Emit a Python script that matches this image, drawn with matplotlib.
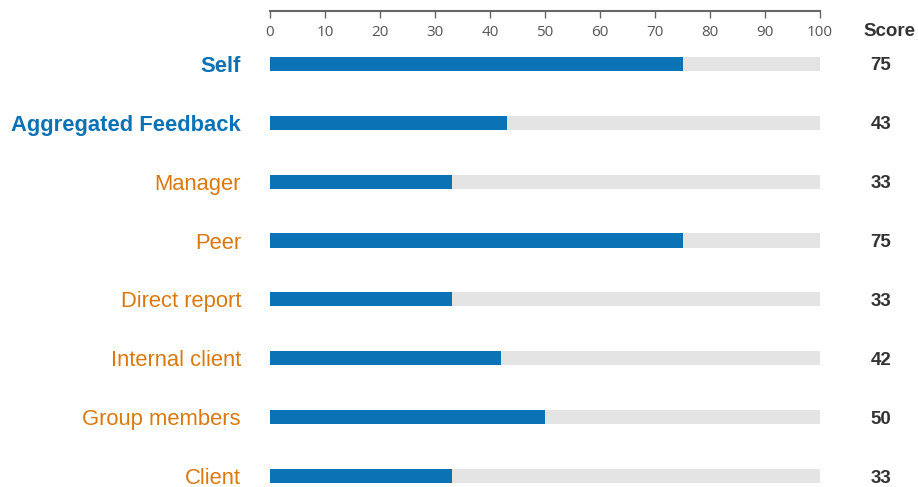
import matplotlib
matplotlib.use("Agg")
import matplotlib.pyplot as plt
from matplotlib.transforms import blended_transform_factory

categories = ["Self", "Aggregated Feedback", "Manager", "Peer", "Direct report",
              "Internal client", "Group members", "Client"]
scores = [75, 43, 33, 75, 33, 42, 50, 33]
highlight = [True, True, False, False, False, False, False, False]
ticks = [0, 10, 20, 30, 40, 50, 60, 70, 80, 90, 100]
max_score = 100

BLUE = "#0b72b5"
ORANGE = "#d9790f"
TRACK = "#e4e4e4"

fig = plt.figure(figsize=(9.18, 4.87), dpi=100)
ax = fig.add_axes([270/918, 0, 550/918, 1 - 11/487])

y = list(range(len(categories)))
bh = 0.24
ax.barh(y, [max_score]*len(y), height=bh, color=TRACK, zorder=1)
ax.barh(y, scores, height=bh, color=BLUE, zorder=2)

ax.set_xlim(0, max_score)
ax.set_ylim(7 + 11/58.9, -53/58.9)

for s in ["left", "right", "bottom"]:
    ax.spines[s].set_visible(False)
ax.spines["top"].set_color("#666666")
ax.spines["top"].set_linewidth(1.5)
ax.xaxis.tick_top()
ax.set_xticks(ticks)
ax.set_xticklabels([str(t) for t in ticks], fontfamily="Open Sans", fontsize=11, color="#555555")
ax.tick_params(axis="x", direction="in", length=5, width=1, color="#666666", pad=-21)
ax.set_yticks([])

tr = blended_transform_factory(fig.transFigure, ax.transData)
for i, (c, s, h) in enumerate(zip(categories, scores, highlight)):
    ax.text(241/918, i, c, transform=tr, ha="right", va="center_baseline",
            fontfamily="Liberation Sans", fontsize=15.8,
            fontweight="bold" if h else "normal", color=BLUE if h else ORANGE)
    ax.text(881/918, i, str(s), transform=tr, ha="center", va="center_baseline",
            fontfamily="Liberation Sans", fontsize=13.5, fontweight="bold", color="#333333")

fig.text(889/918, 1 - 30/487, "Score", ha="center", va="center_baseline",
         fontfamily="Liberation Sans", fontsize=13.5, fontweight="bold", color="#333333")

fig.savefig("out.png", dpi=100)
